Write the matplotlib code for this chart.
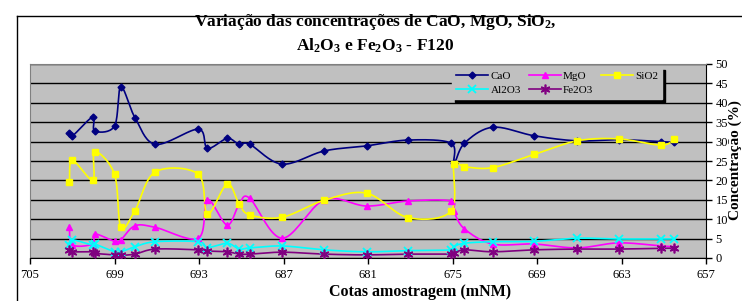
import numpy as np
import matplotlib
matplotlib.use("Agg")
import matplotlib.pyplot as plt
from matplotlib.lines import Line2D

plt.rcParams['font.family'] = ['Liberation Serif', 'DejaVu Serif']
plt.rcParams['mathtext.fontset'] = 'custom'
plt.rcParams['mathtext.rm'] = 'Liberation Serif:bold'
plt.rcParams['mathtext.it'] = 'Liberation Serif:bold'
plt.rcParams['mathtext.bf'] = 'Liberation Serif:bold'

# cotas (mNM)
cotas = [702.2, 702.0, 700.55, 700.4, 699.0, 698.55, 697.55, 696.1, 693.05, 692.4,
         691.0, 690.15, 689.4, 687.1, 684.1, 681.1, 678.15, 675.1, 674.9, 674.15,
         672.15, 669.2, 666.15, 663.2, 660.2, 659.25]

cao = [32.1, 31.4, 36.3, 32.7, 34.0, 44.1, 36.2, 29.3, 33.2, 28.3,
       30.8, 29.3, 29.3, 24.2, 27.6, 28.9, 30.4, 29.6, 24.4, 29.6,
       33.7, 31.5, 30.2, 30.5, 30.0, 29.8]
mgo = [7.9, 3.4, 3.6, 6.2, 4.3, 4.7, 8.3, 7.9, 5.1, 15.0,
       8.5, 13.9, 15.4, 5.1, 15.0, 13.4, 14.7, 14.7, 12.0, 7.5,
       3.6, 3.6, 2.6, 3.9, 3.1, 2.9]
sio2 = [19.5, 25.2, 20.1, 27.4, 21.6, 7.9, 12.2, 22.2, 21.6, 11.3,
        19.1, 13.9, 11.1, 10.5, 14.9, 16.7, 10.4, 12.1, 24.2, 23.5,
        23.3, 26.7, 30.2, 30.7, 29.1, 30.6]
al2o3 = [3.4, 4.7, 3.3, 3.6, 1.6, 1.6, 2.9, 4.2, 4.2, 2.7,
         3.8, 2.3, 2.6, 3.1, 2.1, 1.6, 1.9, 2.1, 2.9, 3.8,
         4.2, 4.3, 5.1, 4.9, 4.9, 4.9]
fe2o3 = [2.1, 1.6, 1.6, 1.2, 0.8, 0.7, 1.0, 2.3, 2.1, 1.8,
         1.6, 1.0, 1.0, 1.5, 1.0, 0.8, 1.0, 1.0, 1.2, 2.1,
         1.6, 2.1, 2.3, 2.3, 2.5, 2.5]

x_ticks = [705, 699, 693, 687, 681, 675, 669, 663, 657]


def smooth(xs, ys, sx=14.08, sy=3.88, n=20):
    """Excel-like smoothed line (Catmull-Rom bezier in pixel space)"""
    p = np.column_stack([np.array(xs) * sx, np.array(ys) * sy])
    out = []
    for i in range(len(p) - 1):
        p0 = p[i - 1] if i > 0 else p[i]
        p1 = p[i]
        p2 = p[i + 1]
        p3 = p[i + 2] if i + 2 < len(p) else p[i + 1]
        c1 = p1 + (p2 - p0) / 6
        c2 = p2 - (p3 - p1) / 6
        t = np.linspace(0, 1, n)[:, None]
        seg = ((1 - t) ** 3) * p1 + 3 * ((1 - t) ** 2) * t * c1 + 3 * (1 - t) * t ** 2 * c2 + t ** 3 * p2
        out.append(seg if i == 0 else seg[1:])
    out = np.vstack(out)
    return out[:, 0] / sx, out[:, 1] / sy


fig = plt.figure(figsize=(7.42, 3.01), dpi=100)
ax = fig.add_axes([30 / 742, 1 - 258 / 301, 676 / 742, 194 / 301])
ax.set_facecolor('#c0c0c0')

series = [
    ("CaO", cao, '#000080', dict(marker='D', ms=3.5)),
    ("MgO", mgo, '#ff00ff', dict(marker='^', ms=5)),
    ("SiO2", sio2, '#ffff00', dict(marker='s', ms=5)),
    ("Al2O3", al2o3, '#00ffff', dict(marker='x', ms=6, mew=1.3)),
    ("Fe2O3", fe2o3, '#800080', dict(marker=(6, 2, 0), ms=7, mew=1.2)),
]

handles = {}
for name, vals, col, mk in series:
    sx_, sy_ = smooth(cotas, vals)
    ax.plot(sx_, sy_, color=col, lw=1.2, zorder=3)
    ax.plot(cotas, vals, ls='none', color=col, mec=col, mfc=col, zorder=4, **mk)
    handles[name] = Line2D([], [], color=col, lw=1.2, mec=col, mfc=col, **mk)

ax.set_xlim(705, 657)
ax.set_ylim(0, 50)
ax.set_xticks(x_ticks)
ax.set_yticks(range(0, 51, 5))
ax.yaxis.tick_right()
ax.grid(axis='y', color='black', lw=1)
ax.set_axisbelow(True)
ax.tick_params(labelsize=9, direction='out', length=4, width=1)
ax.tick_params(axis='x', pad=4)
ax.tick_params(axis='y', pad=3)
for s in ['left', 'top']:
    ax.spines[s].set_color('#808080')
ax.spines['bottom'].set_color('black')
ax.spines['right'].set_color('black')

fig.text(420 / 742, 1 - 292 / 301, "Cotas amostragem (mNM)", ha='center', va='center',
         fontsize=11.5, fontweight='bold')
fig.text(735 / 742, 1 - 160 / 301, "Concentração (%)", ha='center', va='center',
         rotation=90, fontsize=11, fontweight='bold')

order = ["CaO", "Al2O3", "MgO", "Fe2O3", "SiO2"]
leg = ax.legend([handles[k] for k in order], order, ncol=3, fontsize=8,
                loc='upper right', bbox_to_anchor=(668 / 742, 1 - 62 / 301),
                bbox_transform=fig.transFigure, frameon=True, fancybox=False,
                shadow={'color': 'black', 'alpha': 1}, handlelength=2.9,
                columnspacing=0.7, handletextpad=0.2, borderpad=0.35, labelspacing=0.35)
leg.get_frame().set_facecolor('#c0c0c0')
leg.get_frame().set_edgecolor('#c0c0c0')
leg.set_zorder(10)

fig.text(375 / 742, 1 - 22 / 301, "Variação das concentrações de CaO, MgO, SiO$_2$,",
         ha='center', va='center', fontsize=12.5, fontweight='bold')
fig.text(375 / 742, 1 - 46 / 301, "Al$_2$O$_3$ e Fe$_2$O$_3$ - F120",
         ha='center', va='center', fontsize=12.5, fontweight='bold')

# chart area border (left and top edges visible)
fig.add_artist(Line2D([17 / 742, 17 / 742], [0, 1 - 16 / 301], color='black', lw=1,
                      transform=fig.transFigure))
fig.add_artist(Line2D([17 / 742, 1], [1 - 16 / 301, 1 - 16 / 301], color='black', lw=1,
                      transform=fig.transFigure))

fig.savefig("out.png", dpi=100)
